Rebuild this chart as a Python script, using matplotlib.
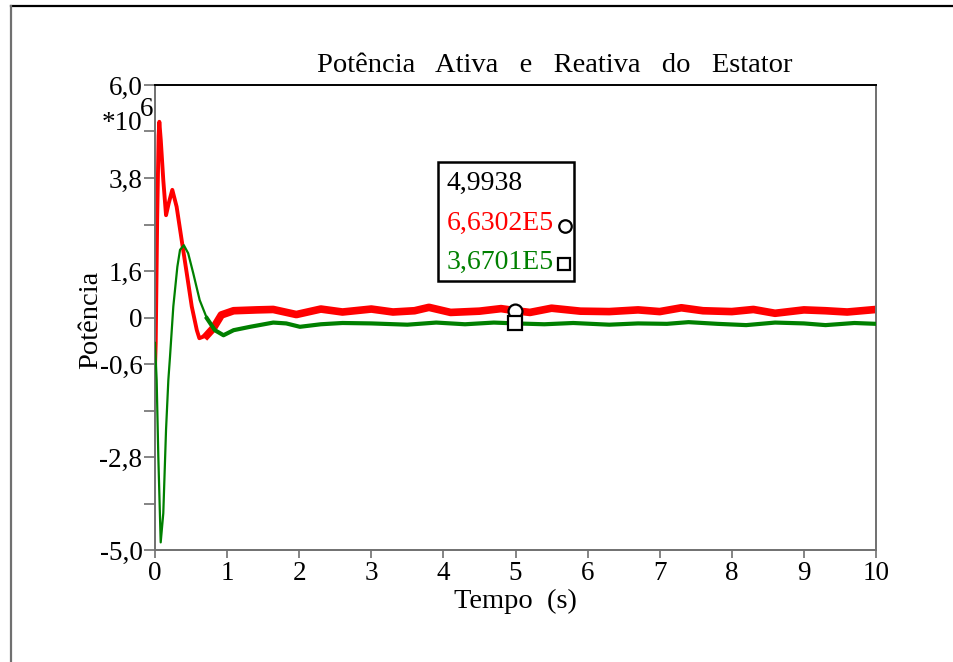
import matplotlib.pyplot as plt
from matplotlib.lines import Line2D
from matplotlib.patches import Rectangle

plt.rcParams['font.family'] = ['Liberation Serif', 'DejaVu Serif']

# active power (red), *1e6
t_p = [0.0, 0.01, 0.03, 0.05, 0.06, 0.08, 0.115, 0.153, 0.19, 0.24, 0.30, 0.37,
       0.44, 0.51, 0.58, 0.615, 0.72, 0.81, 0.92, 1.09, 1.41, 1.64, 1.96,
       2.3, 2.6, 3.0, 3.3, 3.6, 3.8, 4.1, 4.5, 4.8, 5.0, 5.2, 5.5, 5.9, 6.3,
       6.7, 7.0, 7.3, 7.6, 8.0, 8.3, 8.6, 9.0, 9.3, 9.6, 10.0]
p = [-0.7, -0.1, 2.8, 4.8, 5.13, 4.7, 3.75, 2.92, 3.2, 3.52, 3.12, 2.33,
     1.55, 0.76, 0.2, 0.01, 0.08, 0.25, 0.56, 0.66, 0.68, 0.69, 0.57,
     0.70, 0.63, 0.70, 0.63, 0.66, 0.74, 0.62, 0.65, 0.71, 0.66, 0.62, 0.72, 0.65, 0.64,
     0.68, 0.64, 0.73, 0.66, 0.64, 0.69, 0.60, 0.68, 0.66, 0.63, 0.69]

# reactive power (green), *1e6
t_q = [0.0, 0.023, 0.046, 0.079, 0.115, 0.153, 0.185, 0.208, 0.254, 0.31, 0.347,
       0.40, 0.46, 0.53, 0.62, 0.72, 0.83, 0.95, 1.09, 1.32, 1.64, 1.82, 2.01,
       2.3, 2.6, 3.0, 3.5, 3.9, 4.3, 4.7, 5.0, 5.4, 5.8, 6.3, 6.7, 7.1, 7.4,
       7.8, 8.2, 8.6, 9.0, 9.3, 9.7, 10.0]
q = [-0.1, -0.98, -2.79, -4.82, -4.13, -2.16, -0.98, -0.43, 0.76, 1.70, 2.10,
     2.21, 2.02, 1.55, 0.91, 0.48, 0.2, 0.08, 0.2, 0.28, 0.38, 0.36, 0.28,
     0.34, 0.37, 0.36, 0.33, 0.38, 0.34, 0.38, 0.36, 0.34, 0.37, 0.33, 0.36, 0.35, 0.39,
     0.35, 0.32, 0.38, 0.36, 0.32, 0.37, 0.35]

y_ticks = [6.0, 4.9, 3.8, 2.7, 1.6, 0.5, -0.6, -1.7, -2.8, -3.9, -5.0]
y_labels = ['6,0', '', '3,8', '', '1,6', '0', '-0,6', '', '-2,8', '', '-5,0']
x_ticks = list(range(0, 11))

cursor_t = 4.9938
cursor_p = 0.66302
cursor_q = 0.36701

fig = plt.figure(figsize=(9.54, 6.62), dpi=100)
ax = fig.add_axes([155/954, 1-550/662, 721/954, 465/662])

# transient part drawn thinner, noisy steady-state part as a thicker band
n_p = 16  # index of t=0.72
n_q = 15
ax.plot(t_p[:n_p + 1], p[:n_p + 1], color='#ff0000', lw=2.8, solid_joinstyle='round', zorder=2)
ax.plot(t_p[n_p:], p[n_p:], color='#ff0000', lw=5.5, solid_joinstyle='round', zorder=2)
ax.plot(t_q[:n_q + 1], q[:n_q + 1], color='#008000', lw=1.6, solid_joinstyle='round', zorder=3)
ax.plot(t_q[n_q:], q[n_q:], color='#008000', lw=3.0, solid_joinstyle='round', zorder=3)

ax.plot([cursor_t], [cursor_p], 'o', ms=10, mfc='white', mec='black', mew=1.6, zorder=5)
ax.plot([cursor_t], [cursor_q], 's', ms=10, mfc='white', mec='black', mew=1.6, zorder=5)

ax.set_xlim(0, 10)
ax.set_ylim(-5.0, 6.0)
ax.set_xticks(x_ticks)
ax.set_xticklabels([str(v) for v in x_ticks])
ax.set_yticks(y_ticks)
ax.set_yticklabels(y_labels)
ax.tick_params(axis='both', direction='out', length=6, width=1.2, color='#707070',
               labelsize=19.5, pad=2)
ax.tick_params(axis='y', length=8, pad=1)

for side in ['left', 'bottom', 'right']:
    ax.spines[side].set_color('#707070')
    ax.spines[side].set_linewidth(1.4)
ax.spines['top'].set_color('black')
ax.spines['top'].set_linewidth(1.4)

fig.text(515/954, 1-601/662, 'Tempo  (s)', ha='center', va='center', fontsize=20.5)
fig.text(91/954, 1-320/662, 'Potência', rotation=90, ha='center', va='center', fontsize=20.5)
fig.text(122/954, 1-123/662, '*10', ha='center', va='center', fontsize=19.5)
fig.text(147/954, 1-110/662, '6', ha='center', va='center', fontsize=19.5)

fig.text(555/954, 1-66/662, 'Potência   Ativa   e   Reativa   do   Estator',
         ha='center', va='center', fontsize=20.5)

# cursor readout box
fig.patches.append(Rectangle((438/954, 1-281/662), 136/954, 119/662, transform=fig.transFigure,
                             fill=False, edgecolor='black', lw=1.8))
fig.text(447/954, 1-183/662, '4,9938', ha='left', va='center', fontsize=20, color='black')
fig.text(447/954, 1-223/662, '6,6302E5', ha='left', va='center', fontsize=20, color='#ff0000')
fig.text(447/954, 1-262/662, '3,6701E5', ha='left', va='center', fontsize=20, color='#008000')
fig.lines.append(Line2D([565/954], [1-226/662], marker='o', ms=9, mfc='white', mec='black',
                        mew=1.6, transform=fig.transFigure))
fig.lines.append(Line2D([564/954], [1-264/662], marker='s', ms=9, mfc='white', mec='black',
                        mew=1.6, transform=fig.transFigure))

# outer frame (top and left edges)
fig.lines.append(Line2D([11/954, 1], [1-6/662, 1-6/662], color='black', lw=1.6,
                        transform=fig.transFigure))
fig.lines.append(Line2D([11/954, 11/954], [0, 1-6/662], color='#707070', lw=1.6,
                        transform=fig.transFigure))

fig.savefig('out.png', dpi=100)
